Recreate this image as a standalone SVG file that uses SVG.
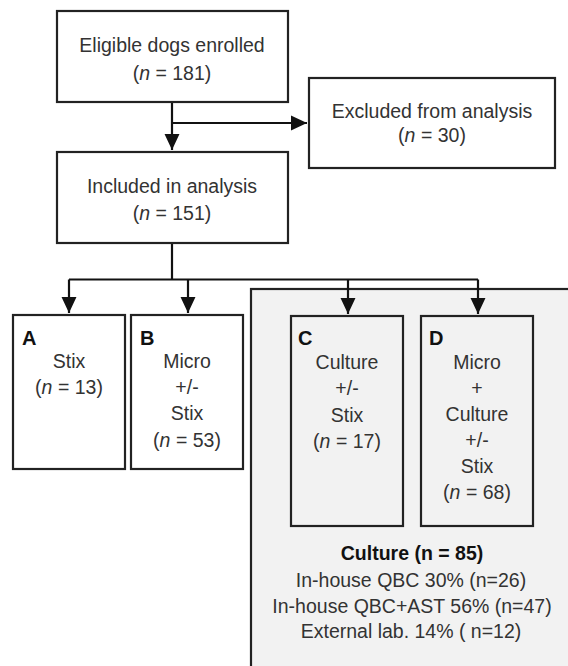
<svg xmlns="http://www.w3.org/2000/svg" width="568" height="666" viewBox="0 0 568 666">
<style>
.box{fill:#fff;stroke:#222;stroke-width:2.2}
.gbox{fill:#f2f2f2;stroke:#222;stroke-width:2.2}
.t{font-family:"Liberation Sans",Arial,sans-serif;font-size:19.5px;fill:#333;text-anchor:middle}
.b{font-family:"Liberation Sans",Arial,sans-serif;font-size:20px;font-weight:bold;fill:#111}
.c{font-family:"Liberation Sans",Arial,sans-serif;font-size:19.5px;font-weight:bold;fill:#111;text-anchor:middle}
.ln{fill:none;stroke:#111;stroke-width:2.2}
</style>
<defs>
<marker id="ah" markerUnits="userSpaceOnUse" markerWidth="16" markerHeight="16" viewBox="0 0 15 14" refX="15" refY="7" orient="auto">
<path d="M0,0 L15,7 L0,14 Z" fill="#111"/>
</marker>
</defs>
<rect width="568" height="666" fill="#fff"/>
<g id="culture-group">
<rect class="gbox" x="251" y="289" width="340" height="400"/>
<text class="c" x="412" y="560">Culture (n = 85)</text>
<text class="t" x="411" y="587">In-house QBC 30% (n=26)</text>
<text class="t" x="412" y="613">In-house QBC+AST 56% (n=47)</text>
<text class="t" x="411" y="638">External lab. 14% ( n=12)</text>
</g>
<g id="connectors">
<path class="ln" d="M172,102 V150" marker-end="url(#ah)"/>
<path class="ln" d="M172,123 H307" marker-end="url(#ah)"/>
<path class="ln" d="M172,243 V279.5"/>
<path class="ln" d="M69,279.5 H478"/>
<path class="ln" d="M69,279.5 V313" marker-end="url(#ah)"/>
<path class="ln" d="M188,279.5 V313" marker-end="url(#ah)"/>
<path class="ln" d="M348,279.5 V314" marker-end="url(#ah)"/>
<path class="ln" d="M478,279.5 V314" marker-end="url(#ah)"/>
</g>
<g id="enrolled">
<rect class="box" x="57" y="11" width="231" height="91"/>
<text class="t" x="172" y="52">Eligible dogs enrolled</text>
<text class="t" x="172" y="80">(<tspan font-style="italic">n</tspan> = 181)</text>
</g>
<g id="excluded">
<rect class="box" x="309" y="78" width="246" height="90"/>
<text class="t" x="432" y="118">Excluded from analysis</text>
<text class="t" x="432" y="142">(<tspan font-style="italic">n</tspan> = 30)</text>
</g>
<g id="included">
<rect class="box" x="57" y="152" width="231" height="91"/>
<text class="t" x="172" y="193">Included in analysis</text>
<text class="t" x="172" y="220">(<tspan font-style="italic">n</tspan> = 151)</text>
</g>
<g id="groupA">
<rect class="box" x="13" y="315" width="112" height="154"/>
<text class="b" x="22" y="345">A</text>
<text class="t" x="69" y="368">Stix</text>
<text class="t" x="69" y="394">(<tspan font-style="italic">n</tspan> = 13)</text>
</g>
<g id="groupB">
<rect class="box" x="131" y="315" width="112" height="154"/>
<text class="b" x="140" y="345">B</text>
<text class="t" x="187" y="368">Micro</text>
<text class="t" x="187" y="394">+/-</text>
<text class="t" x="187" y="420">Stix</text>
<text class="t" x="187" y="447">(<tspan font-style="italic">n</tspan> = 53)</text>
</g>
<g id="groupC">
<rect class="box" x="291" y="316" width="112" height="210" fill="#f2f2f2" style="fill:#f2f2f2"/>
<text class="b" x="298" y="345">C</text>
<text class="t" x="347" y="369">Culture</text>
<text class="t" x="347" y="395">+/-</text>
<text class="t" x="347" y="422">Stix</text>
<text class="t" x="347" y="448">(<tspan font-style="italic">n</tspan> = 17)</text>
</g>
<g id="groupD">
<rect class="box" x="421" y="316" width="112" height="210" style="fill:#f2f2f2"/>
<text class="b" x="429" y="345">D</text>
<text class="t" x="477" y="369">Micro</text>
<text class="t" x="477" y="395">+</text>
<text class="t" x="477" y="421">Culture</text>
<text class="t" x="477" y="447">+/-</text>
<text class="t" x="477" y="473">Stix</text>
<text class="t" x="477" y="499">(<tspan font-style="italic">n</tspan> = 68)</text>
</g>
</svg>
